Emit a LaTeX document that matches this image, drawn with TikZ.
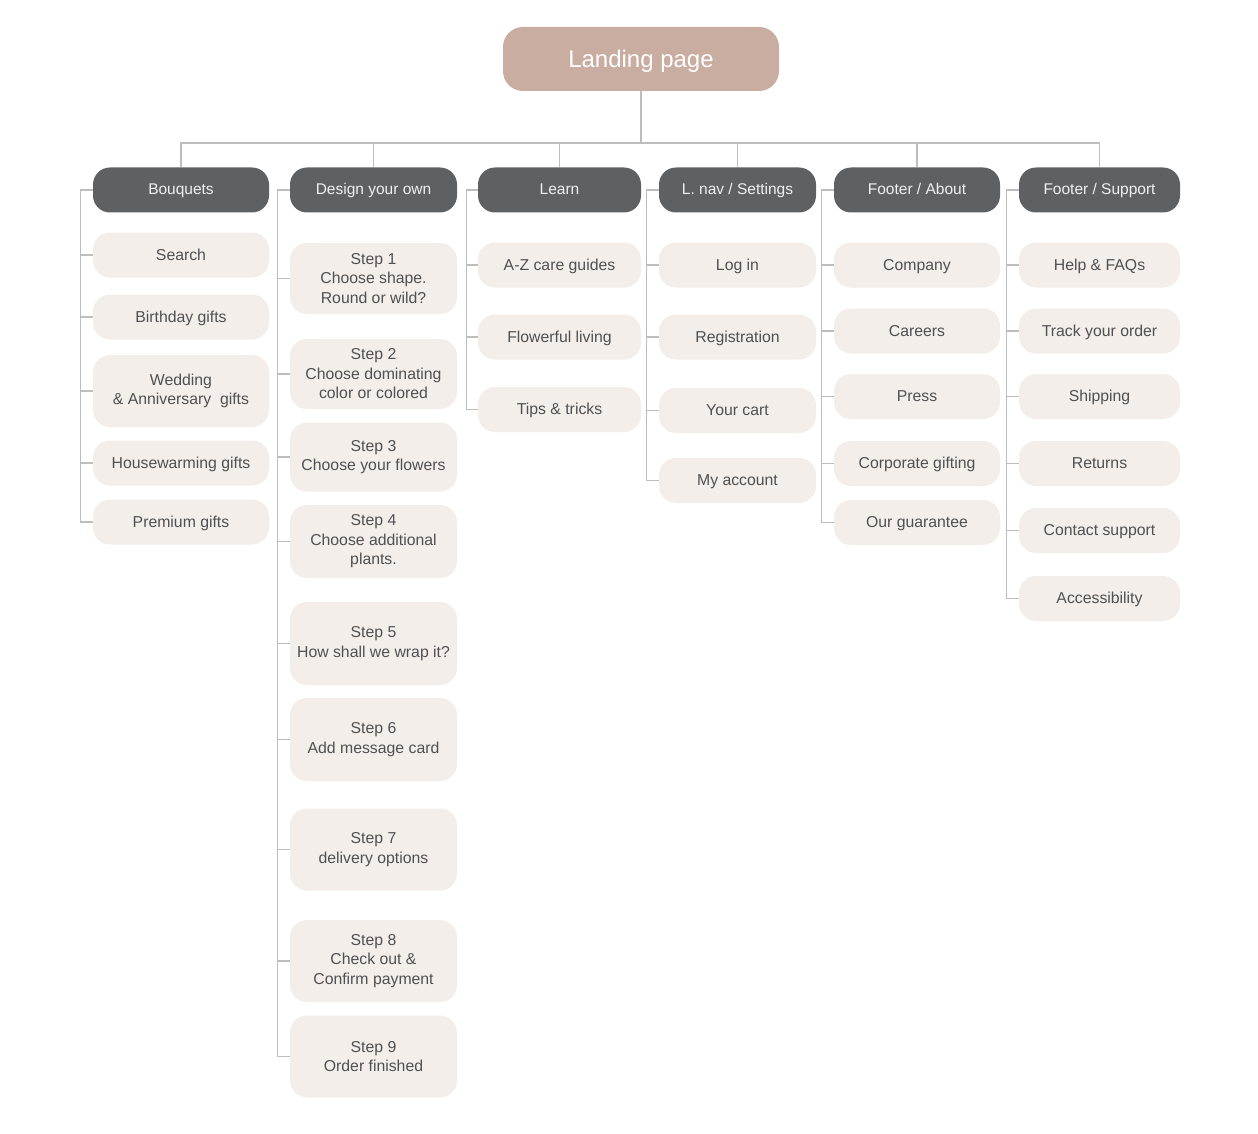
\documentclass[tikz,border=0pt]{standalone}
\usepackage{fontspec}
\setmainfont{Liberation Sans}
\definecolor{landfill}{HTML}{C8ADA0}
\definecolor{headfill}{HTML}{5F6062}
\definecolor{childfill}{HTML}{F3EEEA}
\definecolor{childtext}{HTML}{505052}
\definecolor{linecol}{HTML}{BDBDBD}
\tikzset{
  landbox/.style={fill=landfill, rounded corners=20pt, minimum width=276pt, minimum height=64pt, text=white, font=\fontsize{24}{28}\selectfont, inner sep=0pt, text height=17pt, text depth=0pt},
  headbox/.style={fill=headfill, rounded corners=17pt, minimum height=45pt, text=white!94!black, font=\fontsize{15.5}{19}\selectfont, inner sep=0pt, text height=11pt, text depth=1pt},
  childbox/.style={fill=childfill, rounded corners=17pt, minimum height=45pt, text=childtext, font=\fontsize{15.8}{19.5}\selectfont, align=center, inner sep=0pt},
  oneline/.style={text height=11pt, text depth=1pt},
  conn/.style={draw=linecol, line width=1.2pt},
}
\begin{document}
\begin{tikzpicture}[x=1pt,y=-1pt]
\useasboundingbox (0,0) rectangle (1258,1134);
\fill[white] (0,0) rectangle (1258,1134);

% Landing
\node[landbox] (land) at (641,59) {Landing page};

% Headers
\node[headbox, minimum width=176pt] (h1) at (181,190) {Bouquets};
\node[headbox, minimum width=167pt] (h2) at (373.5,190) {Design your own};
\node[headbox, minimum width=163pt] (h3) at (559.5,190) {Learn};
\node[headbox, minimum width=157pt] (h4) at (737.5,190) {L. nav / Settings};
\node[headbox, minimum width=166pt] (h5) at (917,190) {Footer / About};
\node[headbox, minimum width=161pt] (h6) at (1099.5,190) {Footer / Support};

% Bouquets
\begin{scope}[every node/.append style={childbox, minimum width=176pt}]
\node[oneline] (b1) at (181,255) {Search};
\node[oneline] (b2) at (181,317) {Birthday gifts};
\node[minimum height=72pt] (b3) at (181,391) {Wedding\\\& Anniversary\ \ gifts};
\node[oneline] (b4) at (181,463) {Housewarming gifts};
\node[oneline] (b5) at (181,522) {Premium gifts};
\end{scope}

% Design your own
\begin{scope}[every node/.append style={childbox, minimum width=167pt}]
\node[minimum height=71pt] (d1) at (373.5,278.5) {Step 1\\Choose shape.\\Round or wild?};
\node[minimum height=70pt] (d2) at (373.5,374) {Step 2\\Choose dominating\\color or colored};
\node[minimum height=69pt] (d3) at (373.5,457) {Step 3\\Choose your flowers};
\node[minimum height=73pt] (d4) at (373.5,541.5) {Step 4\\Choose additional\\plants.};
\node[minimum height=83pt] (d5) at (373.5,643.5) {Step 5\\How shall we wrap it?};
\node[minimum height=83pt] (d6) at (373.5,739.5) {Step 6\\Add message card};
\node[minimum height=82pt] (d7) at (373.5,849.5) {Step 7\\delivery options};
\node[minimum height=82pt] (d8) at (373.5,961) {Step 8\\Check out \&\\Confirm payment};
\node[minimum height=82pt] (d9) at (373.5,1056.5) {Step 9\\Order finished};
\end{scope}

% Learn
\begin{scope}[every node/.append style={childbox, oneline, minimum width=163pt}]
\node (l1) at (559.5,265) {A-Z care guides};
\node (l2) at (559.5,337) {Flowerful living};
\node (l3) at (559.5,409.5) {Tips \& tricks};
\end{scope}

% L. nav / Settings
\begin{scope}[every node/.append style={childbox, oneline, minimum width=157pt}]
\node (n1) at (737.5,265) {Log in};
\node (n2) at (737.5,337) {Registration};
\node (n3) at (737.5,410.5) {Your cart};
\node (n4) at (737.5,480.5) {My account};
\end{scope}

% Footer / About
\begin{scope}[every node/.append style={childbox, oneline, minimum width=166pt}]
\node (a1) at (917,265) {Company};
\node (a2) at (917,331) {Careers};
\node (a3) at (917,396.5) {Press};
\node (a4) at (917,463.5) {Corporate gifting};
\node (a5) at (917,522.5) {Our guarantee};
\end{scope}

% Footer / Support
\begin{scope}[every node/.append style={childbox, oneline, minimum width=161pt}]
\node (s1) at (1099.5,265) {Help \& FAQs};
\node (s2) at (1099.5,331) {Track your order};
\node (s3) at (1099.5,396.5) {Shipping};
\node (s4) at (1099.5,463.5) {Returns};
\node (s5) at (1099.5,530.5) {Contact support};
\node (s6) at (1099.5,598.5) {Accessibility};
\end{scope}

% Top connectors
\coordinate (bus) at (641,143);
\draw[conn] (land.south) -- (bus);
\foreach \h in {h1,h2,h3,h4,h5,h6} {
  \draw[conn] (bus) -| (\h.north);
}

% Brackets
\foreach \c in {b1,b2,b3,b4,b5} { \draw[conn] (h1.west) -- ++(-12,0) |- (\c.west); }
\foreach \c in {d1,d2,d3,d4,d5,d6,d7,d8,d9} { \draw[conn] (h2.west) -- ++(-12,0) |- (\c.west); }
\foreach \c in {l1,l2,l3} { \draw[conn] (h3.west) -- ++(-11,0) |- (\c.west); }
\foreach \c in {n1,n2,n3,n4} { \draw[conn] (h4.west) -- ++(-12,0) |- (\c.west); }
\foreach \c in {a1,a2,a3,a4,a5} { \draw[conn] (h5.west) -- ++(-12,0) |- (\c.west); }
\foreach \c in {s1,s2,s3,s4,s5,s6} { \draw[conn] (h6.west) -- ++(-12,0) |- (\c.west); }
\end{tikzpicture}
\end{document}
